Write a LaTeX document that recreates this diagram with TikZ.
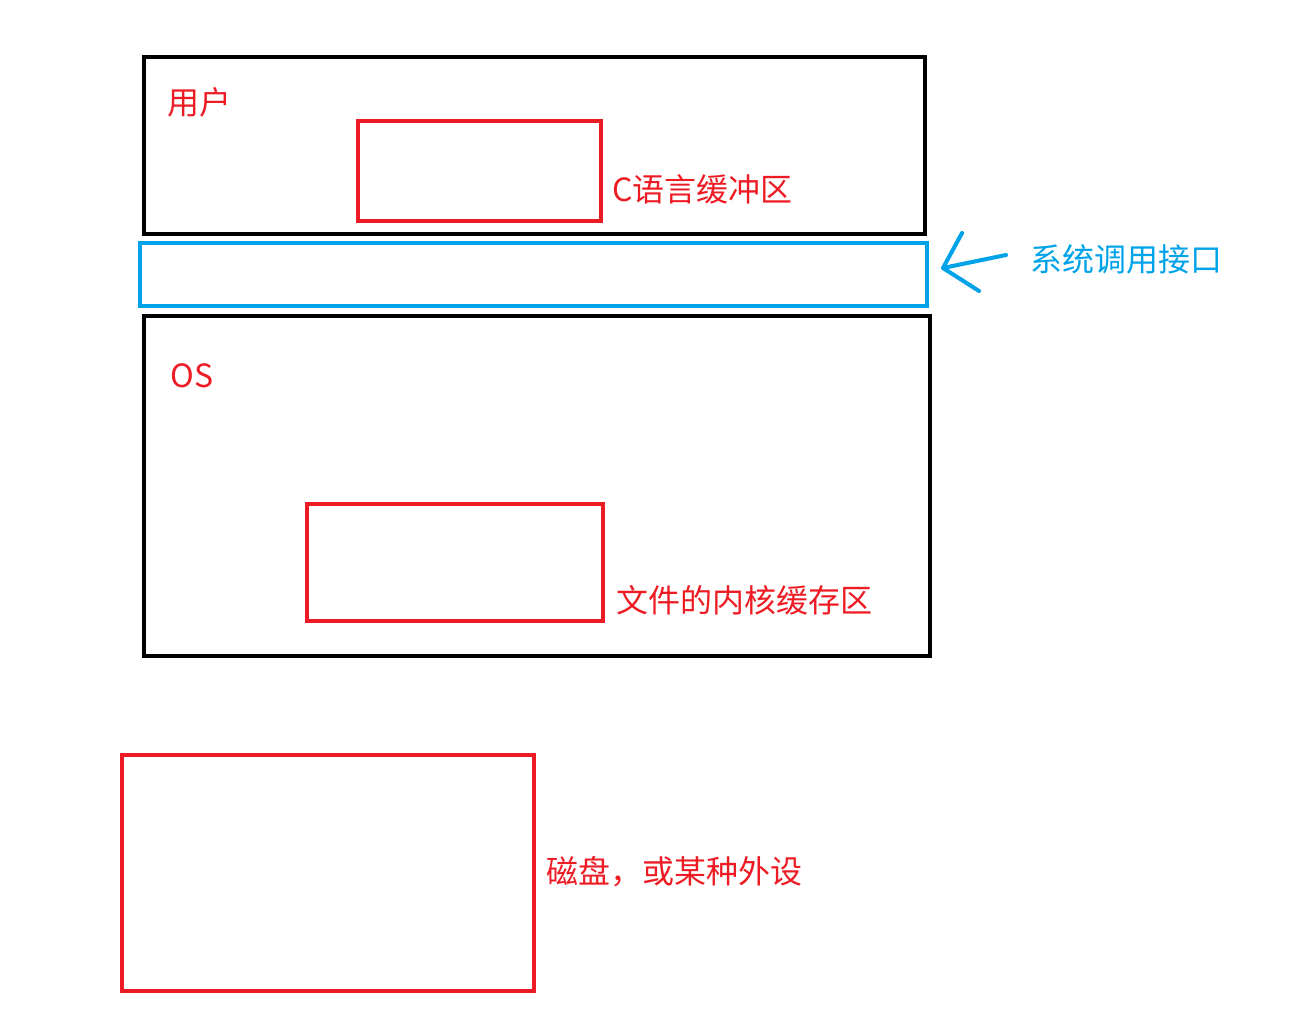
\documentclass[tikz,border=0pt]{standalone}
\usepackage{fontspec}
\newfontfamily\cjk{Noto Sans CJK SC}
\definecolor{bufred}{RGB}{237,28,36}
\definecolor{sysblue}{RGB}{0,162,232}
\tikzset{
	layerbox/.style={draw=black, line width=2.3pt, shape=rectangle, inner sep=0pt},
	bufbox/.style={draw=bufred, line width=2.3pt, shape=rectangle, inner sep=0pt},
	sysbox/.style={draw=sysblue, line width=2.3pt, shape=rectangle, inner sep=0pt},
	redlabel/.style={anchor=west, inner sep=0pt, text=bufred, font=\cjk\fontsize{18.2}{21}\selectfont},
	bluelabel/.style={anchor=west, inner sep=0pt, text=sysblue, font=\cjk\fontsize{18.2}{21}\selectfont}
}
\begin{document}
\begin{tikzpicture}[x=0.02cm, y=-0.02cm]
		\useasboundingbox (0, 0) rectangle (1293, 1035);
		% Boxes:
		\node[layerbox, minimum width=15.62cm, minimum height=3.54cm] (user) at (534.5, 145.5){};
		\node[bufbox, minimum width=4.86cm, minimum height=2.0cm] (cbuf) at (479.5, 171){};
		\node[sysbox, minimum width=15.74cm, minimum height=1.26cm] (syscall) at (533.5, 274.5){};
		\node[layerbox, minimum width=15.72cm, minimum height=6.8cm] (os) at (537, 486){};
		\node[bufbox, minimum width=5.92cm, minimum height=2.34cm] (kbuf) at (455, 562.5){};
		\node[bufbox, minimum width=8.24cm, minimum height=4.72cm] (disk) at (328, 873){};
		% Labels:
		\node[redlabel] (userlabel) at (167, 102){用户};
		\node[redlabel] (cbuflabel) at (612, 189){C语言缓冲区};
		\node[bluelabel] (syslabel) at (1030, 259){系统调用接口};
		\node[redlabel] (oslabel) at (170, 376){OS};
		\node[redlabel] (kbuflabel) at (616, 600){文件的内核缓存区};
		\node[redlabel] (disklabel) at (546, 872){磁盘，或某种外设};
		% Hand-drawn arrow:
		\coordinate (tip) at (943, 268);
		\coordinate (tail) at (1006, 255);
		\draw[sysblue, line width=2.3pt, line cap=round, line join=round] (tail) -- (tip);
		\draw[sysblue, line width=2.3pt, line cap=round, line join=round] (962, 233) -- (tip) -- (979, 291);
	\end{tikzpicture}
\end{document}
